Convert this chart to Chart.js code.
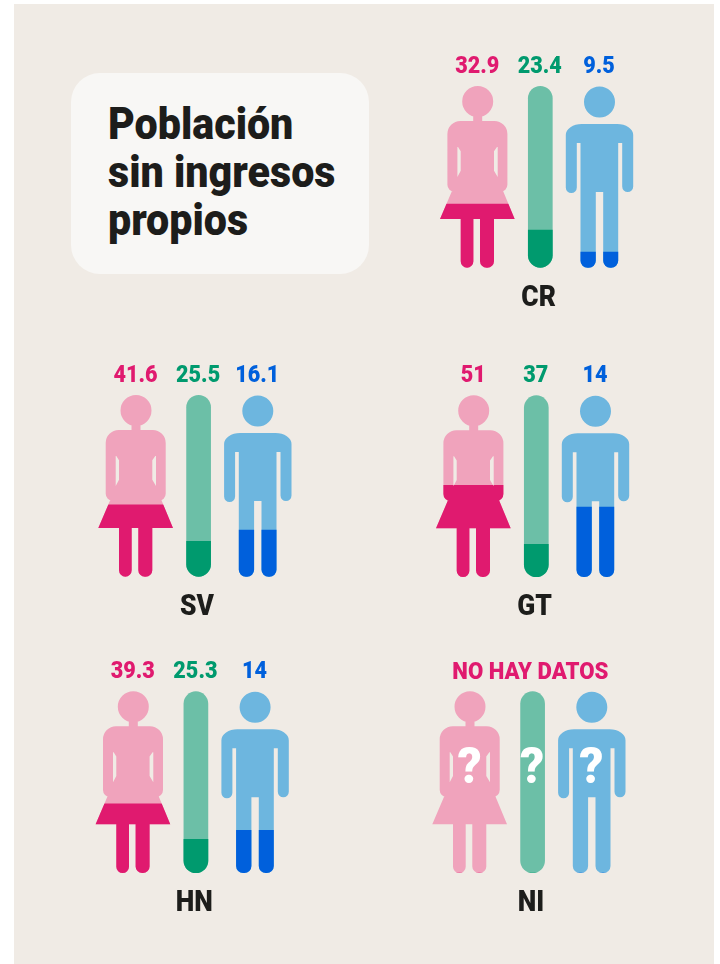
<!DOCTYPE html>
<html lang="es">
<head>
<meta charset="utf-8">
<title>Población sin ingresos propios</title>
<script src="https://cdn.jsdelivr.net/npm/chart.js@4"></script>
<style>
  html,body{margin:0;padding:0;background:#fff;width:720px;height:964px;overflow:hidden}
  #panel{position:absolute;left:14px;top:4px;width:700px;height:960px;background:#f0ebe5}
  #card{position:absolute;left:71px;top:73px;width:298px;height:201px;border-radius:29px;background:#f8f7f5}
  #title{position:absolute;left:108px;top:100px;margin:0;font:900 45px/48px Roboto,sans-serif;color:#1d1d1b;
         transform-origin:0 0;transform:scaleX(.916);white-space:nowrap}
  canvas{position:absolute}
</style>
</head>
<body>
<div id="panel"></div>
<div id="card"></div>
<h1 id="title">Población<br>sin ingresos<br>propios</h1>
<canvas id="c0"></canvas><canvas id="c1"></canvas><canvas id="c2"></canvas><canvas id="c3"></canvas><canvas id="c4"></canvas>
<script>
// Categories and printed labels
const countries = ['CR', 'SV', 'GT', 'HN', 'NI'];
const groups = ['Mujeres', 'Total', 'Hombres'];
const womenLabels = ['32.9', '41.6', '51', '39.3', null];
const totalLabels = ['23.4', '25.5', '37', '25.3', null];
const menLabels = ['9.5', '16.1', '14', '14', null];
const noDataLabel = 'NO HAY DATOS';
// Filled height of each figure, in % of its height
// (the source artwork's fill levels do not follow the printed numbers).
const womenFill = [35, 39.5, 50.4, 38, null];
const totalFill = [20.7, 19.5, 18, 18.5, null];
const menFill = [8.6, 25.7, 38.5, 23.5, null];

// Layout: where each figure group sits on the page (woman's centre, top of figure)
const anchors = [[477.7, 86], [136, 395], [473.7, 395.3], [133.3, 691.3], [470, 691.3]];
const FIG_H = 181.7, STEP = 60.9, CW = 264, CH = 282;
const PINK = '#e01a6f', GREEN = '#009a6e', BLUE = '#0060dc', INK = '#1d1d1b';
const darks = [PINK, GREEN, BLUE];
const lights = ['#f0a3bc', '#6cbfa7', '#6db6df'];
const shapeDx = [0, 1.7, 0];

function rr(p, x, y, w, h, r) { p.roundRect(x, y, w, h, r); }
function poly(p, pts) { p.moveTo(pts[0][0], pts[0][1]); pts.slice(1).forEach(q => p.lineTo(q[0], q[1])); p.closePath(); }
function womanPath() {
  const p = new Path2D();
  p.moveTo(15.5, 15.5); p.arc(0, 15.5, 15.5, 0, Math.PI * 2); p.closePath();
  p.rect(-4.5, 28, 9, 9);
  rr(p, -30.3, 35, 60, 26, [13, 13, 0, 0]);
  rr(p, -30.3, 50, 10, 55.7, [0, 0, 2, 7]);
  rr(p, 20, 50, 9.7, 55.7, [0, 0, 7, 2]);
  poly(p, [[-20.3, 60], [20, 60], [16.3, 65.3], [16.3, 84.7], [20, 91], [20, 103], [-20.3, 103], [-20.3, 91], [-17, 84.7], [-17, 65.3]]);
  poly(p, [[-23.6, 100], [23.3, 100], [37, 133], [-37.7, 133]]);
  rr(p, -17, 130, 12.7, 51.7, [0, 0, 6.5, 6.5]);
  rr(p, 2.3, 130, 14, 51.7, [0, 0, 6.5, 6.5]);
  return p;
}
function manPath() {
  const p = new Path2D();
  p.moveTo(15.5, 16); p.arc(0, 16, 15.5, 0, Math.PI * 2); p.closePath();
  rr(p, -33.7, 38, 67.4, 19, [{x: 16, y: 11}, {x: 16, y: 11}, 0, 0]);
  rr(p, -33.7, 50, 11, 57, [0, 0, 5.5, 5.5]);
  rr(p, 22.7, 50, 11, 56, [0, 0, 5.5, 5.5]);
  p.rect(-19, 50, 37.7, 56);
  rr(p, -19, 100, 15.3, 81.7, [0, 0, 7, 7]);
  rr(p, 3.7, 100, 15, 81.7, [0, 0, 7, 7]);
  return p;
}
function pillPath() {
  const p = new Path2D();
  rr(p, -12.35, 0, 24.7, FIG_H, 12.35);
  return p;
}
const shapes = [womanPath(), pillPath(), manPath()];

function label(ctx, text, x, y, size, color, sx) {
  ctx.save();
  ctx.translate(x, y);
  ctx.scale(sx, 1);
  ctx.font = '900 ' + size + 'px Roboto, sans-serif';
  ctx.fillStyle = color;
  ctx.textAlign = 'center';
  ctx.textBaseline = 'alphabetic';
  ctx.fillText(text, 0, 0);
  ctx.restore();
}

// A bar chart whose bars are clipped to a pictogram silhouette
class FigureBarController extends Chart.BarController {
  draw() {
    const ctx = this.chart.ctx, area = this.chart.chartArea;
    this._cachedMeta.data.forEach((bar, i) => {
      const m = new DOMMatrix().translate(bar.x + shapeDx[i], area.top);
      const path = new Path2D();
      path.addPath(shapes[i], m);
      ctx.save();
      ctx.fillStyle = lights[i];
      ctx.fill(path);
      ctx.clip(path);
      if (Number.isFinite(bar.y) && Number.isFinite(bar.base)) bar.draw(ctx);
      ctx.restore();
    });
  }
}
FigureBarController.id = 'figureBar';
FigureBarController.defaults = Chart.BarController.defaults;
FigureBarController.overrides = Chart.BarController.overrides;
Chart.register(FigureBarController);

const labelPlugin = {
  id: 'figureLabels',
  afterDatasetsDraw(chart, args, opts) {
    const ctx = chart.ctx, area = chart.chartArea;
    const bars = chart.getDatasetMeta(0).data;
    const texts = opts.texts;
    const centre = bars[1].x;
    if (texts.some(t => t === null)) {
      label(ctx, noDataLabel, centre - 0.5, area.top - 12, 24, PINK, 0.925);
      bars.forEach((b, i) => label(ctx, '?', b.x + shapeDx[i] - 0.5, area.top + 91.3, 50, '#ffffff', 0.95));
    } else {
      bars.forEach((b, i) => label(ctx, texts[i], b.x + shapeDx[i] - 0.5, area.top - 13.3, 24, darks[i], 0.9));
    }
    label(ctx, opts.country, centre, area.bottom + 38, 30, INK, 0.88);
  }
};

countries.forEach((country, k) => {
  const [wx, top] = anchors[k];
  const canvas = document.getElementById('c' + k);
  const left = wx - STEP / 2 - 40, x0 = Math.floor(left);
  const up = top - 50, y0 = Math.floor(up);
  const padL = wx - STEP / 2 - x0, padT = top - y0;
  canvas.width = CW; canvas.height = CH;
  canvas.style.cssText = `left:${x0}px;top:${y0}px;width:${CW}px;height:${CH}px`;
  new Chart(canvas, {
    type: 'figureBar',
    data: {
      labels: groups,
      datasets: [{
        label: country,
        data: [womenFill[k], totalFill[k], menFill[k]],
        backgroundColor: darks,
        borderWidth: 0,
        barThickness: 90,
        clip: false
      }]
    },
    options: {
      responsive: false,
      animation: false,
      layout: { padding: { left: padL, right: CW - padL - STEP * 3, top: padT, bottom: CH - padT - FIG_H } },
      scales: {
        x: { display: false, offset: true },
        y: { display: false, min: 0, max: 100 }
      },
      plugins: {
        legend: { display: false },
        tooltip: { enabled: false },
        figureLabels: { country, texts: [womenLabels[k], totalLabels[k], menLabels[k]] }
      }
    },
    plugins: [labelPlugin]
  });
});
</script>
</body>
</html>
